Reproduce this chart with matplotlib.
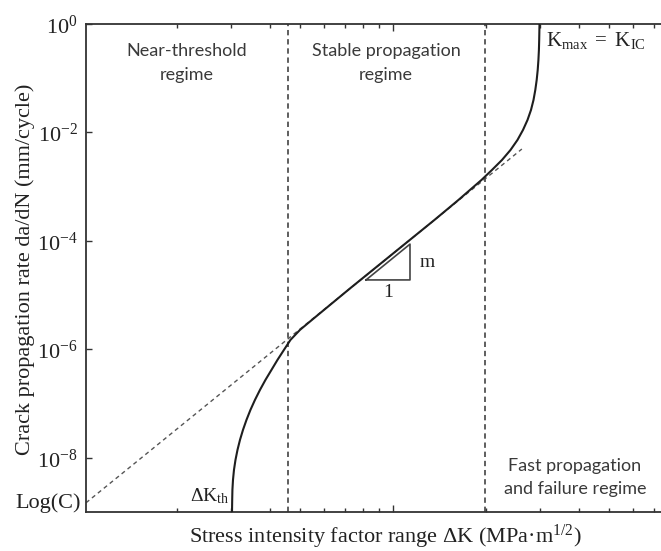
import matplotlib
matplotlib.use("Agg")
import matplotlib.pyplot as plt
from matplotlib.ticker import FixedLocator, LogLocator, NullFormatter, NullLocator

plt.rcParams['mathtext.fontset'] = 'custom'
plt.rcParams['mathtext.rm'] = 'Liberation Serif'
plt.rcParams['mathtext.it'] = 'Liberation Serif:italic'

# ---- data (log10 values) ----
# sigmoidal crack growth curve: log10(dK), log10(da/dN)
curve_log_dk = [-0.5210, -0.5204, -0.5197, -0.5178, -0.5146, -0.5097, -0.5032, -0.4951,
                -0.4854, -0.4741, -0.4612, -0.4466, -0.4304, -0.4126, -0.3932, -0.3738,
                -0.3528, -0.3317, -0.3010, -0.2621, -0.1392, 0.0227, 0.1343, 0.1731,
                0.2120, 0.2492, 0.2864, 0.3204, 0.3528, 0.3803, 0.4029, 0.4207, 0.4353,
                0.4466, 0.4547, 0.4605, 0.4650, 0.4683, 0.4706, 0.4722, 0.4731, 0.4741]
curve_log_rate = [-8.995, -8.774, -8.590, -8.406, -8.221, -8.037, -7.853, -7.668,
                  -7.484, -7.300, -7.115, -6.931, -6.747, -6.562, -6.378, -6.194,
                  -6.009, -5.825, -5.641, -5.456, -4.877, -4.129, -3.613, -3.429,
                  -3.244, -3.060, -2.876, -2.691, -2.507, -2.323, -2.138, -1.954, -1.770,
                  -1.585, -1.401, -1.217, -1.032, -0.848, -0.664, -0.479, -0.295, 0.0]
# Paris law line end points
paris_log_dk = [-0.9935, 0.417]
paris_log_rate = [-8.83, -2.306]
# regime boundaries (dK)
boundaries = [0.457, 1.99]
# slope triangle corners
tri_dk = [0.818, 1.135, 1.135]
tri_log_rate = [-4.72, -4.72, -4.06]
dk_th = 0.301
k_ic = 2.98
ytick_vals = [1e0, 1e-2, 1e-4, 1e-6, 1e-8]
ytick_labels = [r'$10^{0}$', r'$10^{-2}$', r'$10^{-4}$', r'$10^{-6}$', r'$10^{-8}$']
regime_labels = ['Near-threshold\nregime', 'Stable propagation\nregime',
                 'Fast propagation\nand failure regime']
regime_x = [0.215, 0.949, 3.88]
xlim = (0.1015, 10)
ylim = (1e-9, 1e0)

curve_dk = [10 ** v for v in curve_log_dk]
curve_rate = [10 ** v for v in curve_log_rate]
paris_dk = [10 ** v for v in paris_log_dk]
paris_rate = [10 ** v for v in paris_log_rate]
tri_rate = [10 ** v for v in tri_log_rate]

W, H = 661, 551
fig = plt.figure(figsize=(W / 100, H / 100), dpi=100)
ax = fig.add_axes([86 / W, 1 - 512 / H, 616 / W, (512 - 24) / H])
ax.set_xscale('log')
ax.set_yscale('log')
ax.set_xlim(*xlim)
ax.set_ylim(*ylim)

ink = '#1e1e1e'
ax.plot(curve_dk, curve_rate, color=ink, lw=1.5, zorder=3, solid_joinstyle='round')
ax.plot(paris_dk, paris_rate, color='#555555', lw=1.0, ls=(0, (3, 2.5)), zorder=2)
for b in boundaries:
    ax.axvline(b, color='#333333', lw=1.1, ls=(0, (3.5, 2.5)), zorder=1)
ax.plot(tri_dk + [tri_dk[0]], tri_rate + [tri_rate[0]], color='#444444', lw=1.2, zorder=2)

for s in ax.spines.values():
    s.set_color('#333333')
    s.set_linewidth(1.3)
ax.spines['right'].set_visible(False)

ax.yaxis.set_major_locator(FixedLocator(ytick_vals))
ax.set_yticklabels(ytick_labels)
ax.yaxis.set_minor_locator(NullLocator())
ax.xaxis.set_major_locator(FixedLocator([1.0]))
ax.xaxis.set_minor_locator(LogLocator(base=10, subs=range(2, 10)))
ax.xaxis.set_major_formatter(NullFormatter())
ax.xaxis.set_minor_formatter(NullFormatter())
ax.tick_params(axis='both', which='both', direction='in', top=True, right=False,
               color='#333333', width=1.0)
ax.tick_params(axis='x', which='major', length=5)
ax.tick_params(axis='x', which='minor', length=3)
ax.tick_params(axis='y', which='major', length=4, labelsize=16, pad=6, labelcolor='#222222')

serif = 'Liberation Serif'
fig.text(385 / W, 1 - 537 / H, 'Stress intensity factor range ΔK (MPa·m$^{1/2}$)',
         fontsize=16, family=serif, color='#222222', ha='center', va='center')
fig.text(25 / W, 1 - 269 / H, 'Crack propagation rate da/dN (mm/cycle)',
         fontsize=16, family=serif, color='#222222', ha='center', va='center',
         rotation=90)

sans = 'Lato'
tcol = '#3a3a3a'
xt = ax.get_xaxis_transform()
ax.text(regime_x[0], 0.920, regime_labels[0], transform=xt, ha='center', va='center',
        fontsize=13, family=sans, color=tcol, linespacing=1.55)
ax.text(regime_x[1], 0.920, regime_labels[1], transform=xt, ha='center', va='center',
        fontsize=13, family=sans, color=tcol, linespacing=1.55)
ax.text(regime_x[2], 0.070, regime_labels[2], transform=xt, ha='center', va='center',
        fontsize=13, family=sans, color=tcol, linespacing=1.55)

ax.annotate(r'$\Delta\mathrm{K}_{\mathrm{th}}$', xy=(dk_th, ylim[0]), xytext=(-2, 4),
            textcoords='offset points', ha='right', va='bottom', fontsize=14, color='#222222')
ax.annotate(r'$\mathrm{K}_{\mathrm{max}}\ =\ \mathrm{K}_{\mathrm{IC}}$', xy=(k_ic, ylim[1]),
            xytext=(5, -4), textcoords='offset points', ha='left', va='top',
            fontsize=15, color='#222222')
ax.annotate('Log(C)', xy=(paris_dk[0], paris_rate[0]), xytext=(-4, 0),
            textcoords='offset points', ha='right', va='center', fontsize=16,
            family=serif, color='#222222', annotation_clip=False)
ax.annotate('m', xy=(tri_dk[1], (tri_rate[1] * tri_rate[2]) ** 0.5), xytext=(7, 0),
            textcoords='offset points', ha='left', va='center', fontsize=14,
            family=serif, color='#222222')
ax.annotate('1', xy=((tri_dk[0] * tri_dk[1]) ** 0.5, tri_rate[0]), xytext=(0, -3),
            textcoords='offset points', ha='center', va='top', fontsize=14,
            family=serif, color='#222222')

fig.savefig('out.png', dpi=100)
